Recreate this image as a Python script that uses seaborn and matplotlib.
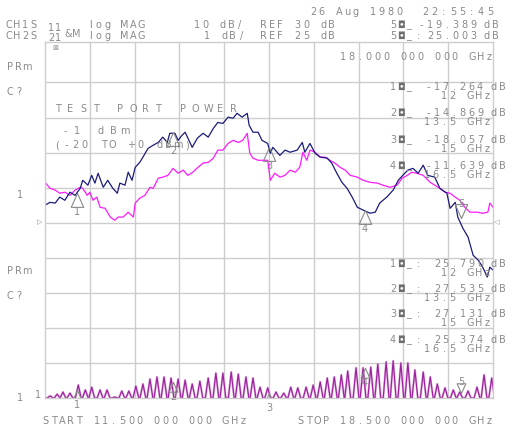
import matplotlib
matplotlib.use("Agg")
import matplotlib.pyplot as plt
import seaborn as sns
from matplotlib.path import Path

# --- data ------------------------------------------------------------------
# channel 1 (S11, navy) and memory trace (magenta), in graticule divisions
s11_ghz = [11.50, 11.58, 11.66, 11.73, 11.81, 11.89, 11.97, 12.05, 12.09, 12.17,
           12.23, 12.28, 12.33, 12.41, 12.48, 12.56, 12.63, 12.67, 12.75, 12.80,
           12.86, 12.91, 12.98, 13.03, 13.11, 13.19, 13.27, 13.34, 13.41, 13.45,
           13.53, 13.58, 13.64, 13.69, 13.80, 13.88, 13.97, 14.05, 14.13, 14.20,
           14.28, 14.36, 14.44, 14.50, 14.58, 14.66, 14.69, 14.75, 14.83, 14.89,
           14.98, 15.02, 15.06, 15.17, 15.25, 15.33, 15.44, 15.52, 15.56, 15.64,
           15.72, 15.80, 15.91, 15.98, 16.06, 16.14, 16.22, 16.30, 16.38, 16.47,
           16.58, 16.66, 16.73, 16.84, 16.94, 17.02, 17.09, 17.17, 17.25, 17.33,
           17.41, 17.48, 17.59, 17.67, 17.78, 17.83, 17.91, 17.95, 18.03, 18.11,
           18.19, 18.27, 18.34, 18.41, 18.45, 18.50]
s11_div = [5.50, 5.58, 5.56, 5.73, 5.64, 5.87, 5.78, 5.98, 6.21, 6.07,
           6.35, 6.13, 6.41, 6.01, 6.21, 5.98, 5.84, 6.13, 6.07, 6.44,
           6.21, 6.58, 6.72, 6.87, 7.12, 7.21, 7.29, 7.44, 7.29, 7.55,
           7.55, 7.35, 7.49, 7.58, 7.15, 7.41, 7.55, 7.44, 7.69, 7.86,
           7.83, 8.01, 7.98, 8.12, 8.01, 8.12, 7.78, 7.58, 7.58, 7.35,
           7.26, 6.98, 7.15, 6.92, 7.07, 7.01, 7.07, 7.29, 7.01, 7.26,
           6.98, 6.87, 6.84, 6.70, 6.41, 6.15, 5.98, 5.73, 5.44, 5.36,
           5.27, 5.30, 5.56, 5.73, 5.93, 6.21, 6.35, 6.50, 6.55, 6.41,
           6.64, 6.35, 6.30, 5.98, 5.84, 5.41, 5.58, 5.16, 4.84, 4.59,
           4.07, 3.93, 3.73, 3.45, 3.73, 3.65]

mem_ghz = [11.50, 11.58, 11.66, 11.73, 11.81, 11.89, 11.97, 12.05, 12.09, 12.16,
           12.20, 12.25, 12.31, 12.36, 12.44, 12.52, 12.59, 12.64, 12.72, 12.80,
           12.88, 12.91, 12.98, 13.06, 13.14, 13.19, 13.27, 13.34, 13.42, 13.50,
           13.58, 13.66, 13.73, 13.81, 13.89, 13.97, 14.05, 14.13, 14.20, 14.28,
           14.36, 14.44, 14.52, 14.59, 14.66, 14.70, 14.75, 14.83, 14.91, 14.98,
           15.02, 15.09, 15.17, 15.25, 15.33, 15.41, 15.48, 15.53, 15.59, 15.64,
           15.72, 15.80, 15.88, 15.95, 16.03, 16.11, 16.19, 16.27, 16.38, 16.47,
           16.58, 16.69, 16.78, 16.89, 17.00, 17.08, 17.16, 17.23, 17.31, 17.41,
           17.52, 17.59, 17.67, 17.75, 17.83, 17.91, 17.98, 18.06, 18.14, 18.25,
           18.34, 18.42, 18.45, 18.50]
mem_div = [6.15, 5.98, 5.93, 5.84, 5.87, 5.78, 5.93, 6.01, 5.98, 5.78,
           5.87, 5.64, 5.73, 5.44, 5.41, 5.16, 5.07, 5.16, 5.16, 5.30,
           5.16, 5.56, 5.70, 5.78, 6.01, 5.98, 6.27, 6.30, 6.35, 6.55,
           6.41, 6.50, 6.35, 6.44, 6.58, 6.70, 6.72, 6.84, 7.07, 7.07,
           7.26, 7.35, 7.29, 7.35, 7.55, 6.98, 6.84, 6.78, 6.78, 6.78,
           6.21, 6.41, 6.30, 6.35, 6.50, 6.44, 6.58, 7.01, 6.78, 7.07,
           7.01, 6.87, 6.87, 6.78, 6.70, 6.58, 6.50, 6.35, 6.30, 6.21,
           6.15, 6.13, 6.07, 6.01, 6.07, 6.27, 6.35, 6.44, 6.41, 6.35,
           6.15, 6.07, 5.98, 5.87, 5.84, 5.73, 5.64, 5.44, 5.30, 5.30,
           5.27, 5.30, 5.56, 5.44]

# channel 2 (S21, 1 dB/div): ripple peaks above the bottom reference line
ch2_peak_ghz = [11.58, 11.69, 11.78, 11.89, 12.02, 12.13, 12.23, 12.36, 12.47, 12.59,
                12.70, 12.81, 12.92, 13.03, 13.14, 13.25, 13.36, 13.47, 13.58, 13.69,
                13.80, 13.92, 14.05, 14.17, 14.28, 14.41, 14.52, 14.64, 14.75, 14.86,
                14.98, 15.11, 15.23, 15.34, 15.45, 15.58, 15.69, 15.80, 15.91, 16.02,
                16.13, 16.23, 16.36, 16.47, 16.59, 16.70, 16.83, 16.94, 17.06, 17.17,
                17.28, 17.41, 17.52, 17.63, 17.75, 17.88, 17.98, 18.11, 18.25, 18.36,
                18.48]
ch2_peak_db = [0.06, 0.11, 0.17, 0.14, 0.37, 0.23, 0.31, 0.23, 0.23, 0.03,
               0.20, 0.20, 0.34, 0.40, 0.54, 0.60, 0.60, 0.57, 0.54, 0.51,
               0.40, 0.48, 0.57, 0.71, 0.71, 0.74, 0.68, 0.60, 0.57, 0.31,
               0.29, 0.17, 0.14, 0.31, 0.29, 0.31, 0.37, 0.46, 0.57, 0.60,
               0.66, 0.77, 0.86, 0.86, 0.88, 0.97, 1.03, 1.06, 1.00, 1.00,
               0.80, 0.74, 0.60, 0.40, 0.29, 0.23, 0.17, 0.20, 0.31, 0.66,
               0.57]

marker_ghz = [12.0, 13.5, 15.0, 16.5, 18.0]
marker_top = [5.85, 7.59, 7.16, 5.36, 5.13]
marker_bot = [0.23, 0.46, 0.14, 0.86, 0.14]

top_vals = ["-17.264", "-14.869", "-18.057", "-11.639"]
bot_vals = ["25.790", "27.535", "27.131", "25.374"]
mk_freq = ["12 GHz", "13.5 GHz", "15 GHz", "16.5 GHz"]

# --- figure ----------------------------------------------------------------
sns.set_style("white")
W, H = 509, 429
GRAY = "#8a8a8a"
fig = plt.figure(figsize=(W / 100, H / 100), dpi=100)


def put(x, y, s, pitch=8.6, size=7, color=GRAY, right=False):
    # fixed-pitch text, like the analyzer's vector font
    if right:
        x = x - (len(s) - 1) * pitch
    for i, ch in enumerate(s):
        if ch != " ":
            fig.text((x + i * pitch) / W, 1 - y / H, ch, ha="center", va="center",
                     fontsize=size, color=color, family="DejaVu Sans")


ax = fig.add_axes([45 / W, 31 / H, 448 / W, 356 / H])
ax.set_xlim(11.5, 18.5)
ax.set_ylim(0, 356 / 35.06)
ax.set_xticks([11.5 + 0.7 * k for k in range(1, 10)])
ax.set_yticks(range(1, 10))
ax.grid(True, color="#cdcdcd", lw=1.0)
ax.tick_params(length=0, labelbottom=False, labelleft=False)
for sp in ax.spines.values():
    sp.set_color("#cdcdcd")
    sp.set_linewidth(1.0)

# bottom channel ripple: narrow lobes sitting on a flat baseline
half = 0.045
bx, by = [11.5], [0.0]
for p, h in zip(ch2_peak_ghz, ch2_peak_db):
    bx += [p - half, p, p + half]
    by += [0.0, h, 0.0]
bx.append(18.5)
by.append(0.0)
sns.lineplot(x=bx, y=by, ax=ax, color="#dcaadc", lw=1.6, sort=False, estimator=None)
sns.lineplot(x=bx, y=by, ax=ax, color="#9c1e9c", lw=0.8, sort=False, estimator=None)

sns.lineplot(x=mem_ghz, y=mem_div, ax=ax, color="#ff1aff", lw=0.9, sort=False, estimator=None)
sns.lineplot(x=s11_ghz, y=s11_div, ax=ax, color="#1b1b7a", lw=0.9, sort=False, estimator=None)

up = Path([(0, 0), (-0.45, -1), (0.45, -1), (0, 0)])
dn = Path([(0, 0), (-0.45, 1), (0.45, 1), (0, 0)])
for i, (g, t, b) in enumerate(zip(marker_ghz, marker_top, marker_bot)):
    mk = dn if i == 4 else up
    ax.plot([g], [t], marker=mk, ms=20, mfc="none", mec=GRAY, mew=0.8, ls="none")
    ax.plot([g], [b], marker=mk, ms=14, mfc="none", mec=GRAY, mew=0.8, ls="none")
    off_t = 14 if i == 4 else -19
    off_b = 11 if i == 4 else -15
    ax.annotate(str(i + 1), (g, t), xytext=(0, off_t * 0.72), textcoords="offset points",
                ha="center", va="center", fontsize=7, color=GRAY)
    ax.annotate(str(i + 1), (g, b), xytext=(0, off_b * 0.72), textcoords="offset points",
                ha="center", va="center", fontsize=7, color=GRAY, annotation_clip=False)

# header
put(313, 12, "26 Aug 1980")
put(425, 12, "22:55:45", pitch=9.3)
put(9, 25, "CH1S", pitch=8)
put(51, 28, "11", pitch=7)
put(90, 25, "log MAG")
put(197, 25, "10 dB/")
put(263, 25, "REF 30 dB")
put(393, 25, "5")
put(401, 25, "◘", color="#6e6e6e")
put(409, 25, "_")
put(473, 25, "-19.389", right=True)
put(487, 25, "dB")
put(9, 36, "CH2S", pitch=8)
put(51, 38, "21", pitch=7)
put(68, 34, "&M", pitch=8)
put(90, 36, "log MAG")
put(207, 36, "1 dB/")
put(263, 36, "REF 25 dB")
put(393, 36, "5")
put(401, 36, "◘", color="#6e6e6e")
put(409, 36, "_")
put(418, 36, ":")
put(473, 36, "25.003", right=True)
put(487, 36, "dB")

# graticule annotations
put(55, 48, "⊠", size=5)
put(343, 57, "18.000 000 000 GHz")
put(10, 67, "PRm")
put(10, 92, "C?")
put(20, 195, "1")
put(40, 222, "▷", size=5)
put(497, 222, "◁", size=5)
put(10, 271, "PRm")
put(10, 296, "C?")
put(20, 398, "1")
put(38, 395, "1")
put(58, 109, "TEST PORT POWER", pitch=12.5)
put(65, 131, "-1 dBm", pitch=12)
put(57, 145, "(-20 TO +0 dBm)", pitch=9.3)

for i, (tv, bv, fq) in enumerate(zip(top_vals, bot_vals, mk_freq)):
    yt = [87, 113, 140, 166][i]
    yb = [264, 289, 314, 340][i]
    for y, v, colon in ((yt, tv, False), (yb, bv, True)):
        put(393, y, str(i + 1))
        put(401, y, "◘", color="#6e6e6e")
        put(409, y, "_")
        if colon:
            put(418, y, ":")
        put(480, y, v, right=True)
        put(494, y, "dB")
        put(487, y + 9, fq, right=True)

put(45, 421, "START 11.500 000 000 GHz")
put(300, 421, "STOP 18.500 000 000 GHz")

fig.savefig("out.png", dpi=100)
